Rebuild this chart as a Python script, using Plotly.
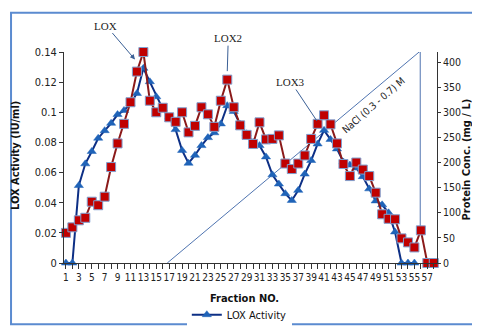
import plotly.graph_objects as go

# ── Data ──────────────────────────────────────────────────────────────
fractions = list(range(1, 59))

protein_conc = [
    60, 71, 85, 90, 122, 115, 132, 191, 238, 277,
    320, 381, 420, 323, 300, 309, 290, 281, 300, 260,
    273, 310, 296, 271, 323, 365, 310, 274, 255, 237,
    280, 246, 247, 254, 198, 187, 198, 214, 247, 277,
    294, 276, 238, 197, 173, 200, 186, 173, 140, 97,
    88, 87, 49, 41, 31, 65, 0, 0,
]

lox_fractions = list(range(1, 56))
lox_activity = [
    0, 0, 0.0514, 0.0658, 0.074, 0.0828, 0.0878, 0.0927, 0.0985, 0.1012,
    0.1059, 0.1125, 0.1292, 0.1203, 0.1103, 0.1023, 0.0969, 0.0885, 0.0747, 0.0662,
    0.0715, 0.0779, 0.0832, 0.0864, 0.0923, 0.1044, 0.1006, 0.0921, 0.0858, 0.080,
    0.0779, 0.0704, 0.0585, 0.0524, 0.046, 0.0415, 0.0482, 0.059, 0.068, 0.079,
    0.088, 0.082, 0.0757, 0.067, 0.065, 0.063, 0.0573, 0.0492, 0.0412, 0.0386,
    0.0333, 0.0206, 0, 0, 0,
]

# NaCl gradient guide line (fraction, LOX-axis units)
gradient_x = [16.7, 55.9, 55.9]
gradient_y = [0, 0.1406, 0.0216]

x_tickvals = list(range(1, 58, 2))
left_tickvals = [0, 0.02, 0.04, 0.06, 0.08, 0.1, 0.12, 0.14]
left_ticktext = ["0", "0.02", "0.04", "0.06", "0.08", "0.1", "0.12", "0.14"]
right_tickvals = [0, 50, 100, 150, 200, 250, 300, 350, 400]

SANS = "DejaVu Sans Condensed, Liberation Sans, sans-serif"
TICK_FONT = {"family": SANS, "size": 11, "color": "#222222"}
X_TICK_FONT = {"family": SANS, "size": 10, "color": "#222222"}
R_TICK_FONT = {"family": SANS, "size": 10.5, "color": "#222222"}
FRAME = "#5b8bd0"

fig = go.Figure()

# ── NaCl gradient line ───────────────────────────────────────────────
fig.add_trace(go.Scatter(
    x=gradient_x, y=gradient_y, mode="lines",
    line={"color": "#4f74b0", "width": 1}, showlegend=False, hoverinfo="skip",
))

# ── LOX activity (left axis) ─────────────────────────────────────────
fig.add_trace(go.Scatter(
    x=lox_fractions, y=lox_activity, name="LOX Activity",
    mode="lines+markers",
    line={"color": "#0d2f85", "width": 2},
    marker={"symbol": "triangle-up", "size": 8, "color": "#1f63b8",
            "line": {"color": "#1f63b8", "width": 0.5}},
    cliponaxis=False,
))

# ── Protein concentration (right axis) ───────────────────────────────
fig.add_trace(go.Scatter(
    x=fractions, y=protein_conc, name="Protein Conc.",
    mode="lines+markers", yaxis="y2", showlegend=False,
    line={"color": "#8b1a1a", "width": 2},
    marker={"symbol": "square", "size": 9, "color": "#c00000",
            "line": {"color": "#7f9fcf", "width": 1}},
    cliponaxis=False,
))

# ── Annotations ──────────────────────────────────────────────────────
serif = {"family": "Liberation Serif", "size": 11, "color": "#222222"}
fig.add_annotation(x=11.7, y=0.135, text="LOX", font=serif, showarrow=True,
                   ax=-29, ay=-34, arrowhead=2, arrowsize=1, arrowwidth=1,
                   arrowcolor="#3a5f95")
fig.add_annotation(x=26, y=0.1273, text="LOX2", font=serif, showarrow=True,
                   ax=1, ay=-33, arrowhead=0, arrowwidth=1, arrowcolor="#3a5f95")
fig.add_annotation(x=39.9, y=0.0942, text="LOX3", font=serif, showarrow=True,
                   ax=-26, ay=-39, arrowhead=0, arrowwidth=1, arrowcolor="#3a5f95")
fig.add_annotation(x=48.6, y=0.1045, text="NaCl (0.3 - 0.7) M", textangle=-41,
                   showarrow=False,
                   font={"family": SANS, "size": 10, "color": "#222222"})

# axis titles
title_font = {"family": SANS, "size": 11, "color": "#111111", "weight": "bold"}
fig.add_annotation(xref="paper", yref="paper", x=-0.13, y=0.51,
                   xanchor="center", yanchor="middle",
                   text="LOX Activity (IU/ml)", textangle=-90, showarrow=False,
                   font=title_font)
fig.add_annotation(xref="paper", yref="paper", x=1.08, y=0.49,
                   xanchor="center", yanchor="middle",
                   text="Protein Conc. (mg / L)", textangle=-90, showarrow=False,
                   font=title_font)
fig.add_annotation(xref="paper", yref="paper", x=0.485, y=-0.168,
                   xanchor="center", yanchor="middle",
                   text="Fraction NO.", showarrow=False, font=title_font)

# frame around the whole picture
fig.add_shape(type="rect", xref="paper", yref="paper",
              x0=-0.142, x1=1.1287, y0=-0.29, y1=1.186,
              line={"color": FRAME, "width": 2}, layer="below")

# ── Layout ───────────────────────────────────────────────────────────
fig.update_layout(
    width=480, height=333,
    margin={"l": 56, "r": 51, "t": 44, "b": 69},
    paper_bgcolor="white", plot_bgcolor="white",
    showlegend=True,
    legend={"orientation": "h", "x": 0.47, "xanchor": "center",
            "y": -0.245, "yanchor": "middle",
            "font": {"family": SANS, "size": 11, "color": "#111111"},
            "itemwidth": 30},
    xaxis={
        "range": [0.7, 58.5], "tickvals": x_tickvals, "tickangle": 0,
        "ticks": "outside", "ticklen": 5, "tickcolor": "#333333",
        "tickfont": X_TICK_FONT, "showgrid": False, "zeroline": False,
        "showline": True, "linecolor": "#333333", "linewidth": 1,
        "automargin": False,
        "minor": {"dtick": 1, "tick0": 0, "ticks": "outside", "ticklen": 5,
                  "tickcolor": "#333333", "showgrid": False},
    },
    yaxis={
        "range": [0, 0.14], "tickvals": left_tickvals, "ticktext": left_ticktext,
        "ticks": "outside", "ticklen": 4, "tickcolor": "#333333",
        "tickfont": TICK_FONT, "showgrid": False, "zeroline": False,
        "showline": True, "linecolor": "#333333", "linewidth": 1,
        "automargin": False,
    },
    yaxis2={
        "range": [0, 420], "tickvals": right_tickvals, "overlaying": "y",
        "side": "right", "ticks": "outside", "ticklen": 3, "tickcolor": "#333333",
        "tickfont": R_TICK_FONT, "showgrid": False, "zeroline": False,
        "showline": True, "linecolor": "#333333", "linewidth": 1,
        "automargin": False,
    },
)

fig.write_html("out.html")
